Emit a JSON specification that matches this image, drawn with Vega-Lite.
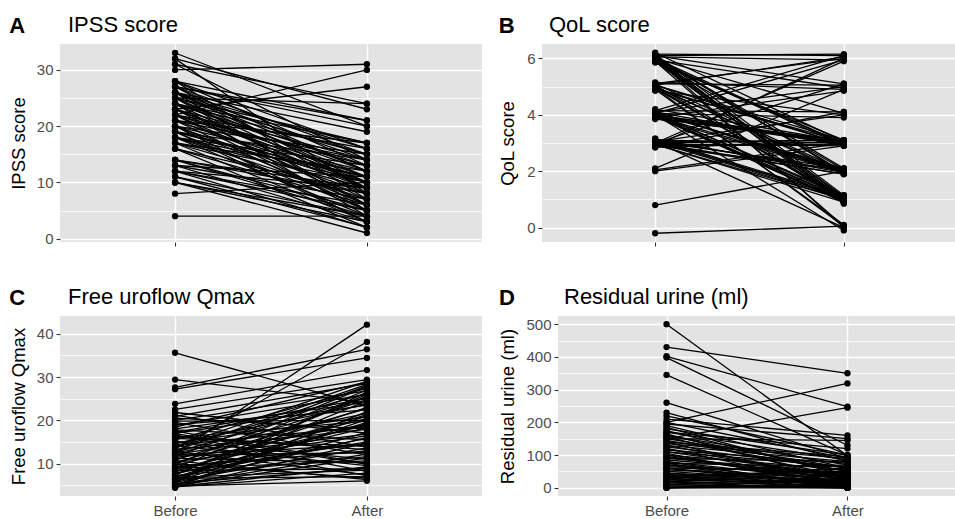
{
  "$schema": "https://vega.github.io/schema/vega-lite/v6.json",
  "padding": {"left": 9, "top": 14, "right": 0, "bottom": 0},
  "background": "white",
  "datasets": {
    "ipss": [
      {"id":1,"Before":33,"After":20},{"id":2,"Before":32,"After":23},{"id":3,"Before":31,"After":14},{"id":4,"Before":30,"After":31},
      {"id":5,"Before":31,"After":24},{"id":6,"Before":22,"After":30},{"id":7,"Before":23,"After":27},{"id":8,"Before":28,"After":21},
      {"id":9,"Before":27,"After":21},{"id":10,"Before":26,"After":19},{"id":11,"Before":25,"After":24},{"id":12,"Before":24,"After":17},
      {"id":13,"Before":28,"After":16},{"id":14,"Before":27,"After":12},{"id":15,"Before":26,"After":10},{"id":16,"Before":25,"After":15},
      {"id":17,"Before":24,"After":8},{"id":18,"Before":23,"After":14},{"id":19,"Before":22,"After":11},{"id":20,"Before":21,"After":9},
      {"id":21,"Before":20,"After":12},{"id":22,"Before":19,"After":5},{"id":23,"Before":18,"After":7},{"id":24,"Before":17,"After":10},
      {"id":25,"Before":16,"After":6},{"id":26,"Before":14,"After":4},{"id":27,"Before":13,"After":3},{"id":28,"Before":12,"After":5},
      {"id":29,"Before":11,"After":2},{"id":30,"Before":10,"After":1},{"id":31,"Before":8,"After":10},{"id":32,"Before":4,"After":4},
      {"id":33,"Before":28,"After":13},{"id":34,"Before":27,"After":15},{"id":35,"Before":26,"After":16},{"id":36,"Before":25,"After":11},
      {"id":37,"Before":24,"After":13},{"id":38,"Before":23,"After":9},{"id":39,"Before":22,"After":16},{"id":40,"Before":21,"After":14},
      {"id":41,"Before":20,"After":15},{"id":42,"Before":19,"After":11},{"id":43,"Before":18,"After":13},{"id":44,"Before":17,"After":12},
      {"id":45,"Before":16,"After":8},{"id":46,"Before":14,"After":9},{"id":47,"Before":13,"After":7},{"id":48,"Before":12,"After":6},
      {"id":49,"Before":11,"After":4},{"id":50,"Before":10,"After":3},{"id":51,"Before":27,"After":20},{"id":52,"Before":26,"After":14},
      {"id":53,"Before":25,"After":17},{"id":54,"Before":24,"After":12},{"id":55,"Before":23,"After":6},{"id":56,"Before":22,"After":5},
      {"id":57,"Before":21,"After":17},{"id":58,"Before":20,"After":8},{"id":59,"Before":19,"After":10},{"id":60,"Before":18,"After":4},
      {"id":61,"Before":17,"After":3},{"id":62,"Before":16,"After":2},{"id":63,"Before":14,"After":8},{"id":64,"Before":13,"After":11},
      {"id":65,"Before":12,"After":9},{"id":66,"Before":28,"After":7},{"id":67,"Before":26,"After":5},{"id":68,"Before":24,"After":4},
      {"id":69,"Before":22,"After":7},{"id":70,"Before":20,"After":6},{"id":71,"Before":18,"After":9},{"id":72,"Before":25,"After":6},
      {"id":73,"Before":23,"After":11},{"id":74,"Before":21,"After":5},{"id":75,"Before":19,"After":3},{"id":76,"Before":17,"After":7},
      {"id":77,"Before":14,"After":5},{"id":78,"Before":12,"After":2},{"id":79,"Before":10,"After":4},{"id":80,"Before":32,"After":8},
      {"id":81,"Before":27,"After":9},{"id":82,"Before":24,"After":15},{"id":83,"Before":22,"After":13},{"id":84,"Before":21,"After":10},
      {"id":85,"Before":20,"After":3},{"id":86,"Before":26,"After":12},{"id":87,"Before":19,"After":14},{"id":88,"Before":23,"After":10},
      {"id":89,"Before":18,"After":11},{"id":90,"Before":25,"After":9}
    ],
    "qol": [
      {"id":1,"Before":6.15,"After":6.1},{"id":2,"Before":6.05,"After":5.95},{"id":3,"Before":5.95,"After":1.1},{"id":4,"Before":6.1,"After":0.9},
      {"id":5,"Before":5.9,"After":2.05},{"id":6,"Before":6.0,"After":1.0},{"id":7,"Before":6.2,"After":3.05},{"id":8,"Before":5.95,"After":2.9},
      {"id":9,"Before":6.05,"After":1.95},{"id":10,"Before":5.9,"After":0.05},{"id":11,"Before":6.1,"After":5.1},{"id":12,"Before":6.0,"After":4.05},
      {"id":13,"Before":5.85,"After":3.1},{"id":14,"Before":6.15,"After":1.15},{"id":15,"Before":5.95,"After":0.85},{"id":16,"Before":6.05,"After":2.1},
      {"id":17,"Before":5.9,"After":3.0},{"id":18,"Before":6.1,"After":6.15},{"id":19,"Before":5.05,"After":6.05},{"id":20,"Before":4.95,"After":1.0},
      {"id":21,"Before":5.1,"After":2.0},{"id":22,"Before":4.9,"After":3.05},{"id":23,"Before":5.0,"After":0.95},{"id":24,"Before":5.15,"After":4.9},
      {"id":25,"Before":4.95,"After":2.95},{"id":26,"Before":5.05,"After":1.1},{"id":27,"Before":4.85,"After":4.0},{"id":28,"Before":5.1,"After":5.05},
      {"id":29,"Before":5.0,"After":1.9},{"id":30,"Before":4.9,"After":0.1},{"id":31,"Before":5.05,"After":3.1},{"id":32,"Before":4.95,"After":1.05},
      {"id":33,"Before":5.1,"After":6.0},{"id":34,"Before":4.05,"After":5.95},{"id":35,"Before":3.95,"After":3.0},{"id":36,"Before":4.1,"After":2.05},
      {"id":37,"Before":4.0,"After":1.0},{"id":38,"Before":3.9,"After":2.95},{"id":39,"Before":4.15,"After":4.1},{"id":40,"Before":4.05,"After":1.15},
      {"id":41,"Before":3.85,"After":3.1},{"id":42,"Before":4.0,"After":0.9},{"id":43,"Before":4.1,"After":5.0},{"id":44,"Before":3.95,"After":2.0},
      {"id":45,"Before":4.2,"After":3.05},{"id":46,"Before":4.0,"After":-0.1},{"id":47,"Before":3.9,"After":1.95},{"id":48,"Before":4.05,"After":3.9},
      {"id":49,"Before":4.1,"After":2.9},{"id":50,"Before":3.95,"After":1.05},{"id":51,"Before":4.15,"After":6.1},{"id":52,"Before":3.9,"After":4.85},
      {"id":53,"Before":4.0,"After":3.0},{"id":54,"Before":4.05,"After":2.1},{"id":55,"Before":3.95,"After":0.95},{"id":56,"Before":3.05,"After":3.1},
      {"id":57,"Before":2.95,"After":1.0},{"id":58,"Before":3.1,"After":2.0},{"id":59,"Before":2.9,"After":2.95},{"id":60,"Before":3.0,"After":5.9},
      {"id":61,"Before":3.15,"After":1.1},{"id":62,"Before":2.85,"After":3.05},{"id":63,"Before":3.05,"After":4.0},{"id":64,"Before":3.0,"After":1.9},
      {"id":65,"Before":2.95,"After":0.9},{"id":66,"Before":3.1,"After":3.0},{"id":67,"Before":2.9,"After":2.05},{"id":68,"Before":3.05,"After":0.0},
      {"id":69,"Before":3.0,"After":5.1},{"id":70,"Before":2.95,"After":2.95},{"id":71,"Before":3.1,"After":1.05},{"id":72,"Before":2.85,"After":4.1},
      {"id":73,"Before":3.0,"After":3.1},{"id":74,"Before":3.15,"After":1.95},{"id":75,"Before":2.9,"After":6.0},{"id":76,"Before":2.95,"After":2.9},
      {"id":77,"Before":2.05,"After":3.0},{"id":78,"Before":2.1,"After":4.9},{"id":79,"Before":2.0,"After":2.9},{"id":80,"Before":0.8,"After":2.0},
      {"id":81,"Before":-0.2,"After":0.05},{"id":82,"Before":5.95,"After":4.95},{"id":83,"Before":6.0,"After":0.0},{"id":84,"Before":4.95,"After":0.05},
      {"id":85,"Before":3.05,"After":2.1},{"id":86,"Before":6.05,"After":1.05},{"id":87,"Before":5.9,"After":0.95},{"id":88,"Before":6.1,"After":1.9},
      {"id":89,"Before":5.0,"After":1.95},{"id":90,"Before":4.05,"After":1.1},{"id":91,"Before":3.95,"After":0.9},{"id":92,"Before":4.1,"After":2.0},
      {"id":93,"Before":3.05,"After":1.0},{"id":94,"Before":2.95,"After":1.9},{"id":95,"Before":3.1,"After":1.05},{"id":96,"Before":4.0,"After":3.05},
      {"id":97,"Before":3.9,"After":3.0},{"id":98,"Before":6.0,"After":2.95},{"id":99,"Before":5.05,"After":2.95},{"id":100,"Before":4.1,"After":1.95}
    ],
    "qmax": [
      {"id":1,"Before":35.6,"After":23.3},{"id":2,"Before":29.4,"After":24.0},{"id":3,"Before":27.6,"After":36.4},{"id":4,"Before":27.2,"After":34.4},
      {"id":5,"Before":23.8,"After":31.6},{"id":6,"Before":12.3,"After":42.1},{"id":7,"Before":13.4,"After":38.1},{"id":8,"Before":22.5,"After":29.4},
      {"id":9,"Before":21.8,"After":17.0},{"id":10,"Before":20.9,"After":28.5},{"id":11,"Before":20.0,"After":26.8},{"id":12,"Before":19.5,"After":12.0},
      {"id":13,"Before":19.0,"After":22.4},{"id":14,"Before":18.4,"After":28.9},{"id":15,"Before":17.8,"After":15.5},{"id":16,"Before":17.2,"After":25.0},
      {"id":17,"Before":16.6,"After":8.2},{"id":18,"Before":16.0,"After":19.8},{"id":19,"Before":15.5,"After":27.4},{"id":20,"Before":15.0,"After":11.0},
      {"id":21,"Before":14.6,"After":23.7},{"id":22,"Before":14.1,"After":9.5},{"id":23,"Before":13.7,"After":26.2},{"id":24,"Before":13.2,"After":17.9},
      {"id":25,"Before":12.8,"After":7.4},{"id":26,"Before":12.4,"After":21.6},{"id":27,"Before":12.0,"After":14.3},{"id":28,"Before":11.6,"After":28.0},
      {"id":29,"Before":11.2,"After":10.2},{"id":30,"Before":10.8,"After":24.8},{"id":31,"Before":10.4,"After":16.4},{"id":32,"Before":10.0,"After":6.6},
      {"id":33,"Before":9.6,"After":20.4},{"id":34,"Before":9.3,"After":12.9},{"id":35,"Before":9.0,"After":27.0},{"id":36,"Before":8.7,"After":18.8},
      {"id":37,"Before":8.4,"After":8.8},{"id":38,"Before":8.1,"After":23.0},{"id":39,"Before":7.8,"After":15.0},{"id":40,"Before":7.5,"After":25.6},
      {"id":41,"Before":7.2,"After":11.6},{"id":42,"Before":6.9,"After":19.2},{"id":43,"Before":6.6,"After":7.0},{"id":44,"Before":6.3,"After":21.0},
      {"id":45,"Before":6.0,"After":13.6},{"id":46,"Before":5.7,"After":26.5},{"id":47,"Before":5.4,"After":9.0},{"id":48,"Before":5.1,"After":17.2},
      {"id":49,"Before":4.8,"After":6.0},{"id":50,"Before":4.5,"After":14.8},{"id":51,"Before":4.4,"After":22.0},{"id":52,"Before":18.0,"After":24.2},
      {"id":53,"Before":16.3,"After":13.2},{"id":54,"Before":14.8,"After":20.8},{"id":55,"Before":13.0,"After":28.3},{"id":56,"Before":11.4,"After":16.8},
      {"id":57,"Before":10.2,"After":22.7},{"id":58,"Before":8.9,"After":10.6},{"id":59,"Before":7.6,"After":18.3},{"id":60,"Before":6.4,"After":24.5},
      {"id":61,"Before":5.2,"After":12.2},{"id":62,"Before":4.6,"After":7.8},{"id":63,"Before":19.8,"After":20.0},{"id":64,"Before":17.5,"After":10.0},
      {"id":65,"Before":15.8,"After":14.0},{"id":66,"Before":12.6,"After":25.3},{"id":67,"Before":9.8,"After":27.8},{"id":68,"Before":7.0,"After":15.8},
      {"id":69,"Before":5.9,"After":19.5},{"id":70,"Before":4.9,"After":11.3},{"id":71,"Before":21.2,"After":13.8},{"id":72,"Before":18.8,"After":26.0},
      {"id":73,"Before":16.9,"After":9.8},{"id":74,"Before":14.3,"After":18.5},{"id":75,"Before":11.9,"After":12.5},{"id":76,"Before":10.6,"After":6.3},
      {"id":77,"Before":8.2,"After":21.3},{"id":78,"Before":6.8,"After":8.5},{"id":79,"Before":5.6,"After":16.0},{"id":80,"Before":4.7,"After":9.2},
      {"id":81,"Before":20.5,"After":18.0},{"id":82,"Before":17.0,"After":23.5},{"id":83,"Before":15.2,"After":7.2},{"id":84,"Before":13.9,"After":29.0},
      {"id":85,"Before":12.1,"After":19.0},{"id":86,"Before":9.1,"After":14.6},{"id":87,"Before":7.3,"After":26.0},{"id":88,"Before":5.0,"After":20.2}
    ],
    "pvr": [
      {"id":1,"Before":500,"After":98},{"id":2,"Before":430,"After":350},{"id":3,"Before":402,"After":248},{"id":4,"Before":398,"After":130},
      {"id":5,"Before":345,"After":100},{"id":6,"Before":260,"After":90},{"id":7,"Before":230,"After":80},{"id":8,"Before":200,"After":319},
      {"id":9,"Before":150,"After":245},{"id":10,"Before":210,"After":160},{"id":11,"Before":195,"After":150},{"id":12,"Before":190,"After":60},
      {"id":13,"Before":180,"After":100},{"id":14,"Before":175,"After":40},{"id":15,"Before":170,"After":85},{"id":16,"Before":165,"After":20},
      {"id":17,"Before":160,"After":70},{"id":18,"Before":155,"After":30},{"id":19,"Before":150,"After":145},{"id":20,"Before":145,"After":50},
      {"id":21,"Before":140,"After":10},{"id":22,"Before":135,"After":90},{"id":23,"Before":130,"After":25},{"id":24,"Before":125,"After":60},
      {"id":25,"Before":120,"After":5},{"id":26,"Before":115,"After":75},{"id":27,"Before":110,"After":35},{"id":28,"Before":105,"After":0},
      {"id":29,"Before":100,"After":55},{"id":30,"Before":95,"After":15},{"id":31,"Before":90,"After":80},{"id":32,"Before":85,"After":40},
      {"id":33,"Before":80,"After":20},{"id":34,"Before":75,"After":65},{"id":35,"Before":70,"After":0},{"id":36,"Before":65,"After":45},
      {"id":37,"Before":60,"After":10},{"id":38,"Before":55,"After":30},{"id":39,"Before":50,"After":70},{"id":40,"Before":45,"After":5},
      {"id":41,"Before":40,"After":25},{"id":42,"Before":35,"After":50},{"id":43,"Before":30,"After":0},{"id":44,"Before":25,"After":15},
      {"id":45,"Before":20,"After":40},{"id":46,"Before":15,"After":0},{"id":47,"Before":10,"After":20},{"id":48,"Before":5,"After":10},
      {"id":49,"Before":0,"After":0},{"id":50,"Before":0,"After":30},{"id":51,"Before":170,"After":120},{"id":52,"Before":160,"After":50},
      {"id":53,"Before":140,"After":95},{"id":54,"Before":120,"After":30},{"id":55,"Before":110,"After":65},{"id":56,"Before":100,"After":10},
      {"id":57,"Before":90,"After":45},{"id":58,"Before":80,"After":0},{"id":59,"Before":70,"After":35},{"id":60,"Before":60,"After":55},
      {"id":61,"Before":50,"After":15},{"id":62,"Before":40,"After":0},{"id":63,"Before":30,"After":60},{"id":64,"Before":20,"After":5},
      {"id":65,"Before":10,"After":0},{"id":66,"Before":0,"After":15},{"id":67,"Before":200,"After":90},{"id":68,"Before":185,"After":35},
      {"id":69,"Before":130,"After":80},{"id":70,"Before":95,"After":25},{"id":71,"Before":75,"After":5},{"id":72,"Before":45,"After":20},
      {"id":73,"Before":25,"After":45},{"id":74,"Before":5,"After":0},{"id":75,"Before":220,"After":100},{"id":76,"Before":150,"After":60},
      {"id":77,"Before":60,"After":0},{"id":78,"Before":35,"After":10},{"id":79,"Before":15,"After":25},{"id":80,"Before":0,"After":5}
    ]
  },
  "vconcat": [
    {
      "hconcat": [
        {
          "title": {"text": "A", "fontWeight": "bold", "frame": "bounds", "anchor": "start", "dy": 28},
          "vconcat": [
            {
              "title": {"text": "IPSS score", "frame": "group", "anchor": "start", "dx": 8, "offset": 7},
              "width": 422, "height": 198,
              "data": {"name": "ipss"},
              "transform": [{"fold": ["Before", "After"], "as": ["time", "value"]}],
              "encoding": {
                "x": {"field": "time", "type": "ordinal", "sort": ["Before", "After"], "scale": {"type": "point", "padding": 0.6},
                      "axis": {"title": null, "labels": false, "grid": true, "gridWidth": 1.4}},
                "y": {"field": "value", "type": "quantitative", "scale": {"domain": [-0.6, 34.6], "nice": false, "zero": false},
                      "axis": {"title": "IPSS score", "values": [0, 5, 10, 15, 20, 25, 30],
                               "labelExpr": "datum.value % 10 === 0 ? datum.label : ''",
                               "tickOpacity": {"condition": {"test": "datum.value % 10 === 0", "value": 1}, "value": 0},
                               "gridWidth": {"condition": {"test": "datum.value % 10 === 0", "value": 1.4}, "value": 0.7}}},
                "detail": {"field": "id"}
              },
              "layer": [
                {"mark": {"type": "line", "color": "black", "strokeWidth": 1.3}},
                {"mark": {"type": "point", "filled": true, "color": "black", "opacity": 1, "size": 40}}
              ]
            }
          ]
        },
        {
          "title": {"text": "B", "fontWeight": "bold", "frame": "bounds", "anchor": "start", "dy": 28},
          "vconcat": [
            {
              "title": {"text": "QoL score", "frame": "group", "anchor": "start", "dx": 7, "offset": 7},
              "width": 415, "height": 198,
              "data": {"name": "qol"},
              "transform": [{"fold": ["Before", "After"], "as": ["time", "value"]}],
              "encoding": {
                "x": {"field": "time", "type": "ordinal", "sort": ["Before", "After"], "scale": {"type": "point", "padding": 0.6},
                      "axis": {"title": null, "labels": false, "grid": true, "gridWidth": 1.4}},
                "y": {"field": "value", "type": "quantitative", "scale": {"domain": [-0.51, 6.51], "nice": false, "zero": false},
                      "axis": {"title": "QoL score", "values": [0, 1, 2, 3, 4, 5, 6], "titlePadding": 9,
                               "labelExpr": "datum.value % 2 === 0 ? datum.label : ''",
                               "tickOpacity": {"condition": {"test": "datum.value % 2 === 0", "value": 1}, "value": 0},
                               "gridWidth": {"condition": {"test": "datum.value % 2 === 0", "value": 1.4}, "value": 0.7}}},
                "detail": {"field": "id"}
              },
              "layer": [
                {"mark": {"type": "line", "color": "black", "strokeWidth": 1.3}},
                {"mark": {"type": "point", "filled": true, "color": "black", "opacity": 1, "size": 40}}
              ]
            }
          ]
        }
      ],
      "spacing": 16
    },
    {
      "hconcat": [
        {
          "title": {"text": "C", "fontWeight": "bold", "frame": "bounds", "anchor": "start", "dy": 28},
          "vconcat": [
            {
              "title": {"text": "Free uroflow Qmax", "frame": "group", "anchor": "start", "dx": 8, "offset": 7},
              "width": 422, "height": 180,
              "data": {"name": "qmax"},
              "transform": [{"fold": ["Before", "After"], "as": ["time", "value"]}],
              "encoding": {
                "x": {"field": "time", "type": "ordinal", "sort": ["Before", "After"], "scale": {"type": "point", "padding": 0.6},
                      "axis": {"title": null, "labelAngle": 0, "grid": true, "gridWidth": 1.4}},
                "y": {"field": "value", "type": "quantitative", "scale": {"domain": [2.5, 44.1], "nice": false, "zero": false},
                      "axis": {"title": "Free uroflow Qmax", "values": [5, 10, 15, 20, 25, 30, 35, 40],
                               "labelExpr": "datum.value % 10 === 0 ? datum.label : ''",
                               "tickOpacity": {"condition": {"test": "datum.value % 10 === 0", "value": 1}, "value": 0},
                               "gridWidth": {"condition": {"test": "datum.value % 10 === 0", "value": 1.4}, "value": 0.7}}},
                "detail": {"field": "id"}
              },
              "layer": [
                {"mark": {"type": "line", "color": "black", "strokeWidth": 1.3}},
                {"mark": {"type": "point", "filled": true, "color": "black", "opacity": 1, "size": 40}}
              ]
            }
          ]
        },
        {
          "title": {"text": "D", "fontWeight": "bold", "frame": "bounds", "anchor": "start", "dy": 28},
          "vconcat": [
            {
              "title": {"text": "Residual urine (ml)", "frame": "group", "anchor": "start", "dx": 6, "offset": 7},
              "width": 398, "height": 180,
              "data": {"name": "pvr"},
              "transform": [{"fold": ["Before", "After"], "as": ["time", "value"]}],
              "encoding": {
                "x": {"field": "time", "type": "ordinal", "sort": ["Before", "After"], "scale": {"type": "point", "padding": 0.6},
                      "axis": {"title": null, "labelAngle": 0, "grid": true, "gridWidth": 1.4}},
                "y": {"field": "value", "type": "quantitative", "scale": {"domain": [-25, 525], "nice": false, "zero": false},
                      "axis": {"title": "Residual urine (ml)", "values": [0, 50, 100, 150, 200, 250, 300, 350, 400, 450, 500],
                               "labelExpr": "datum.value % 100 === 0 ? datum.label : ''",
                               "tickOpacity": {"condition": {"test": "datum.value % 100 === 0", "value": 1}, "value": 0},
                               "gridWidth": {"condition": {"test": "datum.value % 100 === 0", "value": 1.4}, "value": 0.7}}},
                "detail": {"field": "id"}
              },
              "layer": [
                {"mark": {"type": "line", "color": "black", "strokeWidth": 1.3}},
                {"mark": {"type": "point", "filled": true, "color": "black", "opacity": 1, "size": 40}}
              ]
            }
          ]
        }
      ],
      "spacing": 16
    }
  ],
  "spacing": 39,
  "config": {
    "font": "Liberation Sans",
    "view": {"fill": "#E3E3E3", "stroke": null},
    "axis": {"domain": false, "gridColor": "white", "tickColor": "#333333", "tickSize": 4, "tickWidth": 1.1,
             "labelColor": "#4D4D4D", "labelFontSize": 15, "labelPadding": 3, "titleFontSize": 18.5,
             "titleFontWeight": "normal", "titleColor": "black", "titlePadding": 8, "labelFont": "Liberation Sans", "titleFont": "Liberation Sans"},
    "title": {"fontSize": 22, "fontWeight": "normal", "anchor": "start", "color": "black", "font": "Liberation Sans"}
  }
}
